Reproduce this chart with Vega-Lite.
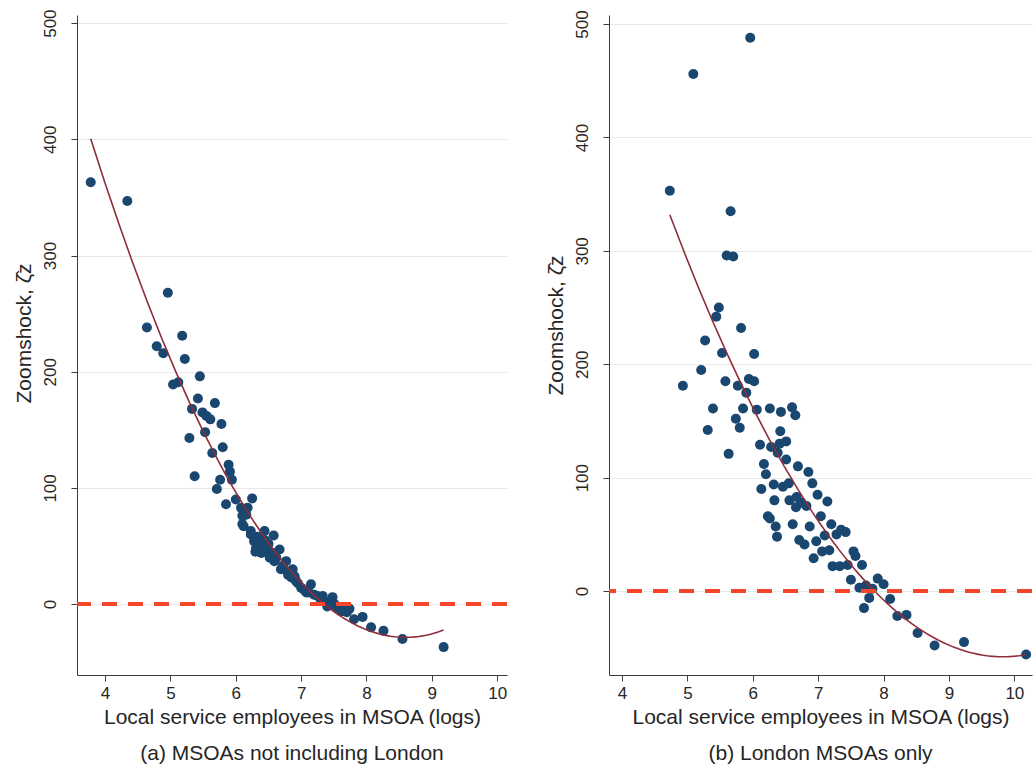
{
  "$schema": "https://vega.github.io/schema/vega-lite/v6.json",
  "background": "white",
  "padding": {"left": 12, "top": 8, "right": 0, "bottom": 0},
  "datasets": {
    "a": [
      {"x": 3.78, "y": 363}, {"x": 4.34, "y": 347}, {"x": 4.96, "y": 268}, {"x": 4.64, "y": 238},
      {"x": 4.79, "y": 222}, {"x": 4.89, "y": 216}, {"x": 5.18, "y": 231}, {"x": 5.22, "y": 211},
      {"x": 5.45, "y": 196}, {"x": 5.04, "y": 189}, {"x": 5.12, "y": 191}, {"x": 5.42, "y": 177},
      {"x": 5.68, "y": 173}, {"x": 5.33, "y": 168}, {"x": 5.49, "y": 165}, {"x": 5.55, "y": 162},
      {"x": 5.61, "y": 159}, {"x": 5.78, "y": 155}, {"x": 5.53, "y": 148}, {"x": 5.29, "y": 143},
      {"x": 5.80, "y": 135}, {"x": 5.64, "y": 130}, {"x": 5.89, "y": 120}, {"x": 5.91, "y": 114},
      {"x": 5.94, "y": 107}, {"x": 5.76, "y": 107}, {"x": 5.37, "y": 110}, {"x": 5.71, "y": 99},
      {"x": 5.85, "y": 86}, {"x": 6.00, "y": 90}, {"x": 6.25, "y": 91}, {"x": 6.08, "y": 83},
      {"x": 6.18, "y": 83}, {"x": 6.16, "y": 77}, {"x": 6.10, "y": 76}, {"x": 6.12, "y": 67},
      {"x": 6.10, "y": 69}, {"x": 6.23, "y": 60}, {"x": 6.23, "y": 63}, {"x": 6.28, "y": 54},
      {"x": 6.39, "y": 58}, {"x": 6.44, "y": 63}, {"x": 6.58, "y": 59}, {"x": 6.33, "y": 58},
      {"x": 6.31, "y": 48}, {"x": 6.39, "y": 44}, {"x": 6.49, "y": 48}, {"x": 6.67, "y": 47},
      {"x": 6.52, "y": 40}, {"x": 6.59, "y": 37}, {"x": 6.77, "y": 37}, {"x": 6.69, "y": 30},
      {"x": 6.79, "y": 28}, {"x": 6.87, "y": 30}, {"x": 6.85, "y": 23}, {"x": 6.92, "y": 20},
      {"x": 7.00, "y": 14}, {"x": 7.15, "y": 17}, {"x": 7.08, "y": 10}, {"x": 7.25, "y": 7},
      {"x": 7.30, "y": 4}, {"x": 7.48, "y": 6}, {"x": 7.33, "y": 7}, {"x": 7.40, "y": 0},
      {"x": 7.40, "y": -2}, {"x": 7.51, "y": 0}, {"x": 7.61, "y": -6}, {"x": 7.63, "y": -3},
      {"x": 7.74, "y": -4}, {"x": 7.81, "y": -13}, {"x": 7.94, "y": -11}, {"x": 8.07, "y": -20},
      {"x": 8.26, "y": -23}, {"x": 8.55, "y": -30}, {"x": 9.18, "y": -37},
      {"x": 6.36, "y": 52}, {"x": 6.42, "y": 45}, {"x": 6.55, "y": 43}, {"x": 6.62, "y": 40},
      {"x": 6.72, "y": 33}, {"x": 6.80, "y": 25}, {"x": 6.95, "y": 18}, {"x": 7.05, "y": 12},
      {"x": 7.12, "y": 10}, {"x": 7.20, "y": 8}, {"x": 6.90, "y": 24}, {"x": 6.60, "y": 44},
      {"x": 6.30, "y": 45}, {"x": 6.45, "y": 55}, {"x": 6.50, "y": 52}, {"x": 7.35, "y": 3},
      {"x": 7.45, "y": -1}, {"x": 7.55, "y": -3}, {"x": 7.65, "y": -6}, {"x": 7.70, "y": -7}
    ],
    "b": [
      {"x": 5.96, "y": 488}, {"x": 5.09, "y": 456}, {"x": 4.73, "y": 353}, {"x": 5.66, "y": 335},
      {"x": 5.60, "y": 296}, {"x": 5.70, "y": 295}, {"x": 5.48, "y": 250}, {"x": 5.44, "y": 242},
      {"x": 5.82, "y": 232}, {"x": 5.27, "y": 221}, {"x": 5.53, "y": 210}, {"x": 6.02, "y": 209},
      {"x": 5.21, "y": 195}, {"x": 4.93, "y": 181}, {"x": 5.39, "y": 161}, {"x": 5.31, "y": 142},
      {"x": 5.63, "y": 121}, {"x": 5.58, "y": 185}, {"x": 5.77, "y": 181}, {"x": 5.85, "y": 161},
      {"x": 5.74, "y": 152}, {"x": 5.80, "y": 144}, {"x": 5.90, "y": 175}, {"x": 5.94, "y": 187},
      {"x": 6.02, "y": 185}, {"x": 6.06, "y": 160}, {"x": 6.11, "y": 129}, {"x": 6.26, "y": 161},
      {"x": 6.43, "y": 158}, {"x": 6.60, "y": 162}, {"x": 6.65, "y": 155}, {"x": 6.42, "y": 141},
      {"x": 6.51, "y": 132}, {"x": 6.41, "y": 130}, {"x": 6.28, "y": 127}, {"x": 6.38, "y": 122},
      {"x": 6.51, "y": 116}, {"x": 6.17, "y": 112}, {"x": 6.20, "y": 103}, {"x": 6.69, "y": 110},
      {"x": 6.85, "y": 105}, {"x": 6.91, "y": 95}, {"x": 6.13, "y": 90}, {"x": 6.32, "y": 94},
      {"x": 6.46, "y": 92}, {"x": 6.55, "y": 95}, {"x": 6.33, "y": 80}, {"x": 6.56, "y": 80},
      {"x": 6.67, "y": 83}, {"x": 6.66, "y": 74}, {"x": 6.74, "y": 78}, {"x": 6.82, "y": 75},
      {"x": 6.99, "y": 85}, {"x": 7.14, "y": 79}, {"x": 6.23, "y": 66}, {"x": 6.26, "y": 64},
      {"x": 6.35, "y": 57}, {"x": 6.37, "y": 48}, {"x": 6.61, "y": 59}, {"x": 6.87, "y": 57},
      {"x": 7.04, "y": 66}, {"x": 7.20, "y": 59}, {"x": 7.35, "y": 54}, {"x": 7.42, "y": 52},
      {"x": 6.71, "y": 45}, {"x": 6.79, "y": 41}, {"x": 6.97, "y": 44}, {"x": 7.10, "y": 49},
      {"x": 7.28, "y": 50}, {"x": 6.93, "y": 29}, {"x": 7.06, "y": 35}, {"x": 7.17, "y": 36},
      {"x": 7.54, "y": 35}, {"x": 7.57, "y": 31}, {"x": 7.22, "y": 22}, {"x": 7.33, "y": 22},
      {"x": 7.45, "y": 23}, {"x": 7.67, "y": 23}, {"x": 7.50, "y": 10}, {"x": 7.63, "y": 3},
      {"x": 7.73, "y": 5}, {"x": 7.83, "y": 2}, {"x": 7.91, "y": 11}, {"x": 8.00, "y": 6},
      {"x": 7.78, "y": -6}, {"x": 7.70, "y": -15}, {"x": 8.10, "y": -7}, {"x": 8.21, "y": -22},
      {"x": 8.35, "y": -21}, {"x": 8.52, "y": -37}, {"x": 8.78, "y": -48}, {"x": 9.23, "y": -45},
      {"x": 10.18, "y": -56}
    ]
  },
  "config": {
    "font": "Liberation Sans",
    "view": {"stroke": null},
    "axis": {
      "domainColor": "#3c3c3c",
      "tickColor": "#3c3c3c",
      "labelColor": "#262626",
      "titleColor": "#262626",
      "labelFont": "Liberation Sans",
      "titleFont": "Liberation Sans",
      "labelFontSize": 17,
      "titleFontSize": 21,
      "titleFontWeight": "normal",
      "tickSize": 6,
      "format": "d"
    },
    "axisX": {"grid": false, "labelPadding": 4, "titlePadding": 5},
    "axisY": {"gridColor": "#e8e8e8", "labelAngle": -90, "labelPadding": 12, "titlePadding": 7},
    "concat": {"spacing": 36}
  },
  "hconcat": [
    {
      "width": 430,
      "height": 660,
      "data": {"name": "a"},
      "title": {"text": "(a) MSOAs not including London", "orient": "bottom", "fontSize": 21, "fontWeight": "normal", "color": "#262626", "offset": 16, "anchor": "middle"},
      "layer": [
        {
          "mark": {"type": "circle", "size": 100, "opacity": 1, "color": "#1a476f"},
          "encoding": {
            "x": {"field": "x", "type": "quantitative", "scale": {"domain": [3.57, 10.15], "nice": false, "zero": false}, "axis": {"values": [4, 5, 6, 7, 8, 9, 10], "title": "Local service employees in MSOA (logs)"}},
            "y": {"field": "y", "type": "quantitative", "scale": {"domain": [-61, 507], "nice": false, "zero": false}, "axis": {"values": [0, 100, 200, 300, 400, 500], "title": "Zoomshock, ζ̂z", "titleY": 318}}
          }
        },
        {
          "transform": [{"regression": "y", "on": "x", "method": "poly", "order": 2}],
          "mark": {"type": "line", "color": "#8f2d3a", "strokeWidth": 1.6},
          "encoding": {
            "x": {"field": "x", "type": "quantitative"},
            "y": {"field": "y", "type": "quantitative"}
          }
        },
        {
          "mark": {"type": "rule", "color": "#f5462a", "strokeWidth": 3, "strokeDash": [15, 11]},
          "encoding": {"y": {"datum": 0}}
        }
      ]
    },
    {
      "width": 423,
      "height": 660,
      "data": {"name": "b"},
      "title": {"text": "(b) London MSOAs only", "orient": "bottom", "fontSize": 21, "fontWeight": "normal", "color": "#262626", "offset": 16, "anchor": "middle"},
      "layer": [
        {
          "mark": {"type": "circle", "size": 100, "opacity": 1, "color": "#1a476f"},
          "encoding": {
            "x": {"field": "x", "type": "quantitative", "scale": {"domain": [3.8, 10.27], "nice": false, "zero": false}, "axis": {"values": [4, 5, 6, 7, 8, 9, 10], "title": "Local service employees in MSOA (logs)"}},
            "y": {"field": "y", "type": "quantitative", "scale": {"domain": [-74, 508], "nice": false, "zero": false}, "axis": {"values": [0, 100, 200, 300, 400, 500], "title": "Zoomshock, ζ̂z", "titleY": 310}}
          }
        },
        {
          "transform": [{"regression": "y", "on": "x", "method": "poly", "order": 2}],
          "mark": {"type": "line", "color": "#8f2d3a", "strokeWidth": 1.6},
          "encoding": {
            "x": {"field": "x", "type": "quantitative"},
            "y": {"field": "y", "type": "quantitative"}
          }
        },
        {
          "mark": {"type": "rule", "color": "#f5462a", "strokeWidth": 3, "strokeDash": [15, 11]},
          "encoding": {"y": {"datum": 0}}
        }
      ]
    }
  ]
}
